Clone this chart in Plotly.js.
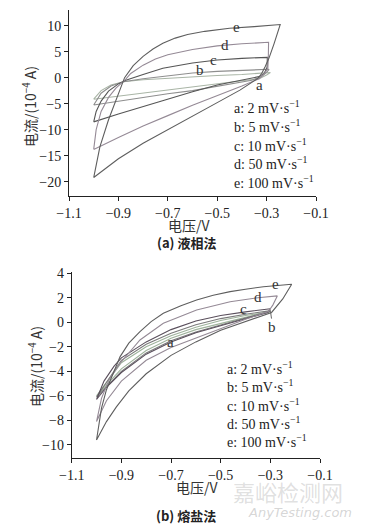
<!DOCTYPE html>
<html><head><meta charset="utf-8">
<script src="https://cdn.plot.ly/plotly-3.0.1.min.js"></script>
<style>html,body{margin:0;padding:0;background:#fff}#chart{width:367px;height:530px}</style>
</head><body><div id="chart"></div>
<script>
// ---- Panel (a) 液相法 : potential (V) and current (10^-4 A) loops ----
const aLabels = ['a','b','c','d','e'];
const legendText = ['a: 2 mV·s<sup>−1</sup>','b: 5 mV·s<sup>−1</sup>','c: 10 mV·s<sup>−1</sup>','d: 50 mV·s<sup>−1</sup>','e: 100 mV·s<sup>−1</sup>'];

const topA_v = [-1.0,-0.97,-0.93,-0.88,-0.8,-0.7,-0.6,-0.5,-0.4,-0.3,-0.285,-0.3,-0.33,-0.4,-0.53,-0.6,-0.7,-0.8,-0.9,-1.0];
const topA_i = [-4.15,-2.5,-1.4,-0.8,-0.4,-0.1,0.2,0.4,0.6,0.85,1.0,0.5,-0.2,-0.6,-1.4,-1.8,-2.4,-3.0,-3.6,-4.15];
const topB_v = [-1.0,-0.97,-0.93,-0.88,-0.8,-0.7,-0.6,-0.5,-0.4,-0.3,-0.29,-0.3,-0.32,-0.36,-0.45,-0.53,-0.6,-0.7,-0.8,-0.9,-1.0];
const topB_i = [-5.25,-3.0,-1.6,-0.8,-0.2,0.4,0.9,1.2,1.4,1.55,1.6,1.0,0.2,-0.5,-1.3,-2.0,-2.5,-3.1,-3.8,-4.5,-5.25];
const topC_v = [-1.0,-0.99,-0.97,-0.94,-0.9,-0.87,-0.8,-0.72,-0.6,-0.5,-0.4,-0.297,-0.298,-0.31,-0.33,-0.4,-0.5,-0.6,-0.7,-0.8,-0.9,-1.0];
const topC_i = [-8.5,-6.5,-4.5,-2.6,-1.2,-0.5,0.6,1.8,2.8,3.4,3.7,3.9,2.0,0.8,0.2,-0.4,-1.4,-2.7,-4.1,-5.5,-7.0,-8.5];
const topD_v = [-1.0,-0.99,-0.97,-0.94,-0.91,-0.87,-0.85,-0.8,-0.75,-0.7,-0.6,-0.5,-0.4,-0.292,-0.293,-0.295,-0.31,-0.33,-0.4,-0.5,-0.6,-0.7,-0.8,-0.9,-1.0];
const topD_i = [-13.8,-10,-6.5,-3.8,-2.0,-0.3,0.8,2.4,3.6,4.4,5.4,6.1,6.5,6.8,4.0,1.8,0.7,-0.2,-1.6,-3.4,-5.3,-7.3,-9.3,-11.5,-13.8];
const topE_v = [-1.0,-0.975,-0.94,-0.905,-0.875,-0.84,-0.8,-0.76,-0.72,-0.67,-0.62,-0.55,-0.45,-0.35,-0.245,-0.27,-0.29,-0.306,-0.32,-0.334,-0.37,-0.408,-0.5,-0.6,-0.7,-0.8,-0.9,-1.0];
const topE_i = [-19.2,-13.3,-8.1,-3.6,0,2.3,4.1,5.5,6.6,7.6,8.3,8.9,9.5,9.8,10.2,6.5,3.8,2.1,0.8,-0.1,-1.3,-2.4,-4.8,-7.4,-10.0,-12.6,-15.6,-19.2];
const topLabelV = [-0.328,-0.569,-0.515,-0.468,-0.42];
const topLabelI = [-1.4,1.4,3.4,6.3,9.8];

// ---- Panel (b) 熔盐法 ----
const botA_v = [-1.0,-0.9,-0.8,-0.7,-0.6,-0.5,-0.4,-0.3,-0.4,-0.5,-0.6,-0.7,-0.8,-0.9,-1.0];
const botA_i = [-6.0,-3.3,-2.0,-1.1,-0.4,0.15,0.55,0.85,0.4,-0.1,-0.6,-1.3,-2.3,-3.8,-6.0];
const botB_v = [-1.0,-0.9,-0.8,-0.7,-0.6,-0.5,-0.4,-0.3,-0.295,-0.3,-0.4,-0.5,-0.6,-0.7,-0.8,-0.9,-1.0];
const botB_i = [-6.1,-3.1,-1.8,-0.9,-0.2,0.3,0.65,0.95,0.3,0.9,0.35,-0.2,-0.8,-1.5,-2.5,-4.0,-6.1];
const botC_v = [-1.0,-0.97,-0.93,-0.9,-0.8,-0.7,-0.6,-0.5,-0.4,-0.3,-0.31,-0.4,-0.5,-0.6,-0.7,-0.8,-0.9,-0.96,-1.0];
const botC_i = [-6.3,-4.8,-3.6,-2.9,-1.6,-0.6,0.1,0.55,0.85,1.1,0.8,0.3,-0.25,-0.85,-1.6,-2.6,-4.1,-5.3,-6.3];
const botD_v = [-1.0,-0.98,-0.95,-0.905,-0.825,-0.731,-0.597,-0.462,-0.35,-0.272,-0.29,-0.308,-0.4,-0.5,-0.6,-0.7,-0.8,-0.9,-0.96,-1.0];
const botD_i = [-8.1,-6.2,-4.7,-3.34,-1.44,-0.08,1.0,1.68,2.0,2.15,1.4,0.87,0.25,-0.5,-1.25,-2.05,-3.1,-4.8,-6.4,-8.1];
const botE_v = [-1.0,-0.98,-0.96,-0.93,-0.905,-0.87,-0.825,-0.78,-0.731,-0.66,-0.597,-0.53,-0.462,-0.4,-0.328,-0.214,-0.25,-0.295,-0.33,-0.4,-0.5,-0.6,-0.7,-0.8,-0.87,-0.92,-0.96,-1.0];
const botE_i = [-9.6,-7.0,-5.5,-4.0,-2.8,-1.7,-0.76,0.05,0.74,1.35,1.82,2.2,2.5,2.7,2.9,3.1,1.9,0.8,0.55,0.1,-0.65,-1.6,-2.7,-4.2,-5.6,-6.9,-8.1,-9.6];
const botLabelV = [-0.704,-0.295,-0.409,-0.348,-0.281];
const botLabelI = [-1.58,-0.36,1.06,2.04,3.13];

const xTicks = [-1.1,-0.9,-0.7,-0.5,-0.3,-0.1];
const topYTicks = [10,5,0,-5,-10,-15,-20];
const botYTicks = [4,2,0,-2,-4,-6,-8,-10];

const topColors = ['#a9b5a6','#8e8e8e','#555555','#958a96','#5e5e5e'];
const botColors = ['#9fb39c','#7a7a7a','#5a4f5c','#958a96','#5e5e5e'];

const topSets = [[topA_v,topA_i],[topB_v,topB_i],[topC_v,topC_i],[topD_v,topD_i],[topE_v,topE_i]];
const botSets = [[botA_v,botA_i],[botB_v,botB_i],[botC_v,botC_i],[botD_v,botD_i],[botE_v,botE_i]];

const traces = [];
topSets.forEach((s,k)=>traces.push({x:s[0],y:s[1],mode:'lines',type:'scatter',xaxis:'x',yaxis:'y',
  line:{color:topColors[k],width:1.1},name:aLabels[k],showlegend:false,hoverinfo:'skip'}));
botSets.forEach((s,k)=>traces.push({x:s[0],y:s[1],mode:'lines',type:'scatter',xaxis:'x2',yaxis:'y2',
  line:{color:botColors[k],width:1.1},name:aLabels[k],showlegend:false,hoverinfo:'skip'}));

const serif = '"Liberation Serif", "DejaVu Serif", serif';
const cjk = '"Noto Sans CJK SC", "Liberation Serif", serif';
const axisCommon = {showline:true,linecolor:'#222',linewidth:1,ticks:'outside',ticklen:4,tickcolor:'#222',
  showgrid:false,zeroline:false,mirror:false,tickfont:{family:serif,size:14,color:'#222'}};

const annotations = [];
aLabels.forEach((t,k)=>{
  annotations.push({x:topLabelV[k],y:topLabelI[k],xref:'x',yref:'y',text:t,showarrow:false,
    font:{family:serif,size:15,color:'#333'}});
  annotations.push({x:botLabelV[k],y:botLabelI[k],xref:'x2',yref:'y2',text:t,showarrow:false,
    font:{family:serif,size:15,color:'#333'}});
});
const topLegY = [107,126,144.5,163,181.5];
const botLegY = [368,386,405,423,441];
legendText.forEach((t,k)=>{
  annotations.push({x:232/367,y:1-topLegY[k]/530,xref:'paper',yref:'paper',xanchor:'left',yanchor:'middle',
    text:t,showarrow:false,font:{family:serif,size:14,color:'#222'}});
  annotations.push({x:225/367,y:1-botLegY[k]/530,xref:'paper',yref:'paper',xanchor:'left',yanchor:'middle',
    text:t,showarrow:false,font:{family:serif,size:14,color:'#222'}});
});
// axis titles
const axTitle = (x,y,t,ang)=>({x:x/367,y:1-y/530,xref:'paper',yref:'paper',xanchor:'center',yanchor:'middle',
  text:t,textangle:ang,showarrow:false,font:{family:cjk,size:14,color:'#333'}});
annotations.push(axTitle(189,225,'电压/V',0));
annotations.push(axTitle(197,487,'电压/V',0));
annotations.push(axTitle(29,107,'电流/(10<sup>−4</sup> A)',-90));
annotations.push(axTitle(35,367,'电流/(10<sup>−4</sup> A)',-90));
annotations.push({x:186/367,y:1-242/530,xref:'paper',yref:'paper',xanchor:'center',yanchor:'middle',text:'<b>(a) 液相法</b>',showarrow:false,
  font:{family:cjk,size:13,color:'#222'}});
annotations.push({x:186/367,y:1-515/530,xref:'paper',yref:'paper',xanchor:'center',yanchor:'middle',text:'<b>(b) 熔盐法</b>',showarrow:false,
  font:{family:cjk,size:13,color:'#222'}});
annotations.push({x:288/367,y:1-491/530,xref:'paper',yref:'paper',xanchor:'center',yanchor:'middle',text:'嘉峪检测网',showarrow:false,
  font:{family:cjk,size:22,color:'rgba(150,150,150,0.3)'}});
annotations.push({x:300/367,y:1-512/530,xref:'paper',yref:'paper',xanchor:'center',yanchor:'middle',text:'<i>AnyTesting.com</i>',showarrow:false,
  font:{family:'"DejaVu Sans", sans-serif',size:13,color:'rgba(150,150,150,0.4)'}});

const layout = {
  width:367,height:530,margin:{l:0,r:0,t:0,b:0},paper_bgcolor:'#fff',plot_bgcolor:'#fff',showlegend:false,
  xaxis:Object.assign({},axisCommon,{domain:[69/367,316/367],range:[-1.1,-0.1],tickvals:xTicks,anchor:'y',tickformat:'.1f'}),
  yaxis:Object.assign({},axisCommon,{domain:[1-196/530,1-10/530],range:[-22.75,13],tickvals:topYTicks,anchor:'x'}),
  xaxis2:Object.assign({},axisCommon,{domain:[71.7/367,320/367],range:[-1.1,-0.1],tickvals:xTicks,anchor:'y2',tickformat:'.1f'}),
  yaxis2:Object.assign({},axisCommon,{domain:[1-458/530,1-272/530],range:[-11.07,4.1],tickvals:botYTicks,anchor:'x2'}),
  annotations:annotations
};
Plotly.newPlot('chart',traces,layout,{staticPlot:true,displayModeBar:false});
</script></body></html>
